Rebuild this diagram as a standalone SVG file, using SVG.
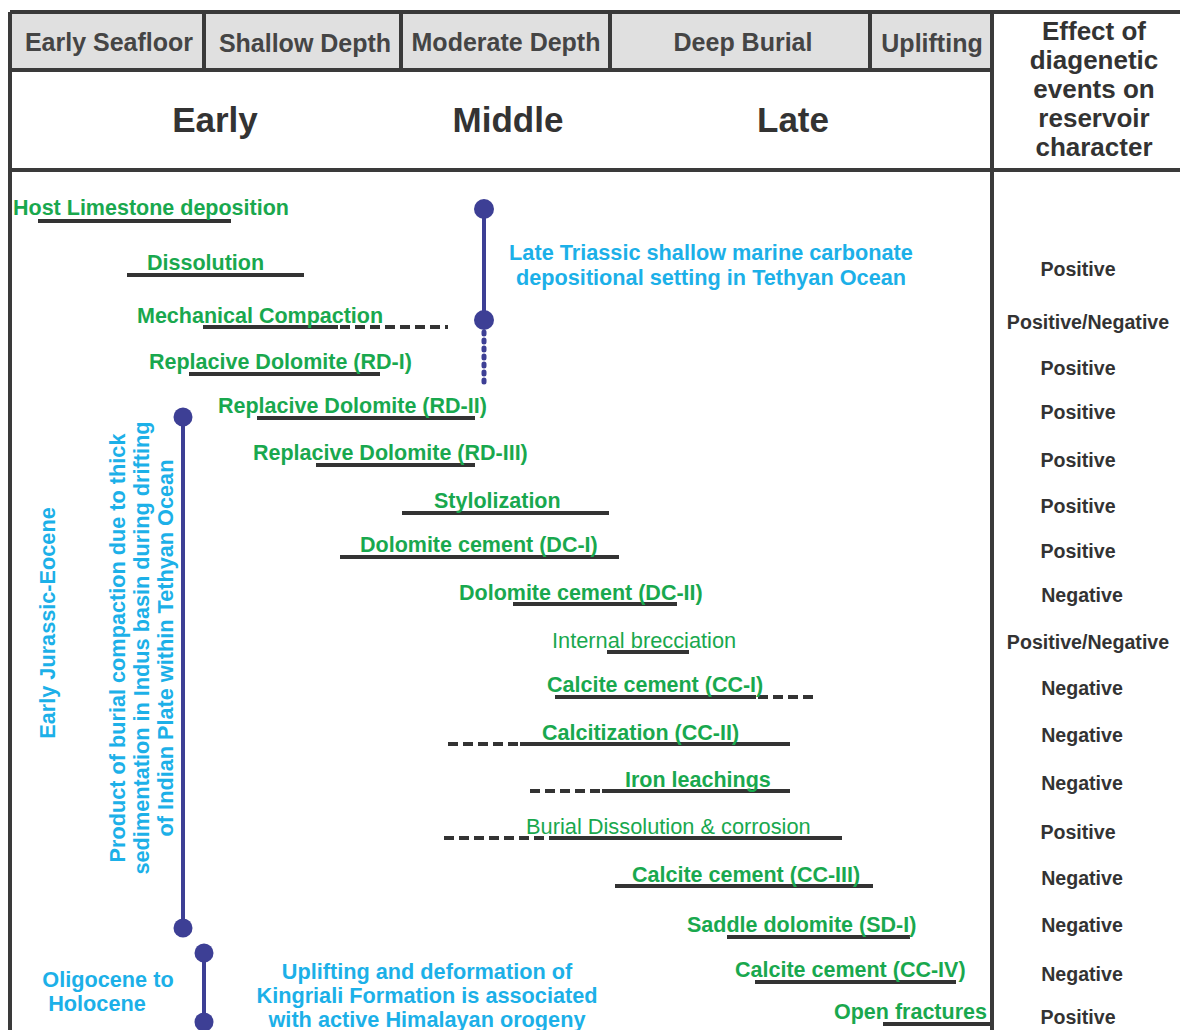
<svg xmlns="http://www.w3.org/2000/svg" width="1180" height="1030" viewBox="0 0 1180 1030">
<style>
.hdr{font-family:"Liberation Sans",Arial,sans-serif;font-weight:bold;font-size:25px;fill:#454545;text-anchor:middle}
.era{font-family:"Liberation Sans",Arial,sans-serif;font-weight:bold;font-size:35px;fill:#333;text-anchor:middle}
.eff{font-family:"Liberation Sans",Arial,sans-serif;font-weight:bold;font-size:26px;fill:#333;text-anchor:middle}
.lbl{font-family:"Liberation Sans",Arial,sans-serif;font-weight:bold;font-size:21.5px;fill:#19a84e}
.lblr{font-family:"Liberation Sans",Arial,sans-serif;font-size:21.8px;fill:#19a84e}
.blue{font-family:"Liberation Sans",Arial,sans-serif;font-weight:bold;font-size:21.7px;fill:#1cb0e8;text-anchor:middle}
.res{font-family:"Liberation Sans",Arial,sans-serif;font-weight:bold;font-size:19.6px;fill:#333;text-anchor:middle}
.frame{stroke:#3a3a3a;stroke-width:4;fill:none}
.bar{stroke:#333;stroke-width:4;fill:none}
.dash{stroke:#333;stroke-width:4;fill:none;stroke-dasharray:10 5}
.tl{stroke:#3d3f95;stroke-width:4;fill:none}
.tld{stroke:#3d3f95;stroke-width:5;fill:none;stroke-dasharray:2 6;stroke-linecap:round}
.dot{fill:#3d3f95}
</style>
<rect width="1180" height="1030" fill="#fff"/>
<g id="header">
<rect x="10" y="12" width="982" height="58" fill="#e0e0e0"/>
<path class="frame" d="M10 12 H1180 M10 70 H992 M10 170 H1180 M10 12 V1030 M992 12 V1030 M204 12 V70 M401 12 V70 M610 12 V70 M870 12 V70"/>
<text class="hdr" x="109" y="51">Early Seafloor</text>
<text class="hdr" x="305" y="52">Shallow Depth</text>
<text class="hdr" x="506" y="51">Moderate Depth</text>
<text class="hdr" x="743" y="51">Deep Burial</text>
<text class="hdr" x="932" y="52">Uplifting</text>
<text class="era" x="215" y="132">Early</text>
<text class="era" x="508" y="132">Middle</text>
<text class="era" x="793" y="132">Late</text>
<text class="eff" x="1094" y="40">Effect of</text>
<text class="eff" x="1094" y="69">diagenetic</text>
<text class="eff" x="1094" y="98">events on</text>
<text class="eff" x="1094" y="127">reservoir</text>
<text class="eff" x="1094" y="156">character</text>
</g>
<g id="connectors">
<path class="bar" d="M38 221 H231 M127 275 H304 M203 327 H338 M189 374 H380 M257 418 H475 M316 465 H475 M402 513 H609 M340 557 H619 M513 604 H677 M607 652 H689 M555 697 H756 M520 744 H790 M602 791 H790 M558 838 H842 M615 886 H873 M727 937 H910 M755 982 H956 M883 1024 H990"/>
<path class="dash" d="M340 327 H448 M758 697 H814 M448 744 H520 M530 791 H602 M444 838 H558"/>
<path class="tl" d="M484 209 V320 M183 417 V928 M204 953 V1022"/>
<path class="tld" d="M484 332 V382"/>
<circle class="dot" cx="484" cy="209" r="10"/>
<circle class="dot" cx="484" cy="320" r="10"/>
<circle class="dot" cx="183" cy="417" r="9.5"/>
<circle class="dot" cx="183" cy="928" r="9.5"/>
<circle class="dot" cx="204" cy="953" r="9.5"/>
<circle class="dot" cx="204" cy="1022" r="9.5"/>
</g>
<g id="events">
<text class="lbl" x="13" y="215">Host Limestone deposition</text>
<text class="lbl" x="147" y="270">Dissolution</text>
<text class="lbl" x="137" y="323">Mechanical Compaction</text>
<text class="lbl" x="149" y="369">Replacive Dolomite (RD-I)</text>
<text class="lbl" x="218" y="413">Replacive Dolomite (RD-II)</text>
<text class="lbl" x="253" y="460">Replacive Dolomite (RD-III)</text>
<text class="lbl" x="434" y="508">Stylolization</text>
<text class="lbl" x="360" y="552">Dolomite cement (DC-I)</text>
<text class="lbl" x="459" y="600">Dolomite cement (DC-II)</text>
<text class="lblr" x="552" y="648">Internal brecciation</text>
<text class="lbl" x="547" y="692">Calcite cement (CC-I)</text>
<text class="lbl" x="542" y="740">Calcitization (CC-II)</text>
<text class="lbl" x="625" y="787">Iron leachings</text>
<text class="lblr" x="526" y="834">Burial Dissolution &amp; corrosion</text>
<text class="lbl" x="632" y="882">Calcite cement (CC-III)</text>
<text class="lbl" x="687" y="932">Saddle dolomite (SD-I)</text>
<text class="lbl" x="735" y="977">Calcite cement (CC-IV)</text>
<text class="lbl" x="834" y="1019">Open fractures</text>
</g>
<g id="settings">
<text class="blue" x="711" y="260">Late Triassic shallow marine carbonate</text>
<text class="blue" x="711" y="285">depositional setting in Tethyan Ocean</text>
<text class="blue" transform="translate(55 623) rotate(-90)">Early Jurassic-Eocene</text>
<g transform="translate(141 648) rotate(-90)">
<text class="blue" x="0" y="-16">Product of burial compaction due to thick</text>
<text class="blue" x="0" y="8">sedimentation in Indus basin during drifting</text>
<text class="blue" x="0" y="32">of Indian Plate within Tethyan Ocean</text>
</g>
<text class="blue" x="108" y="987">Oligocene to</text>
<text class="blue" x="97" y="1011">Holocene</text>
<text class="blue" x="427" y="979">Uplifting and deformation of</text>
<text class="blue" x="427" y="1003">Kingriali Formation is associated</text>
<text class="blue" x="427" y="1027">with active Himalayan orogeny</text>
</g>
<g id="effects">
<text class="res" x="1078" y="276">Positive</text>
<text class="res" x="1088" y="329">Positive/Negative</text>
<text class="res" x="1078" y="375">Positive</text>
<text class="res" x="1078" y="419">Positive</text>
<text class="res" x="1078" y="467">Positive</text>
<text class="res" x="1078" y="513">Positive</text>
<text class="res" x="1078" y="558">Positive</text>
<text class="res" x="1082" y="602">Negative</text>
<text class="res" x="1088" y="649">Positive/Negative</text>
<text class="res" x="1082" y="695">Negative</text>
<text class="res" x="1082" y="742">Negative</text>
<text class="res" x="1082" y="790">Negative</text>
<text class="res" x="1078" y="839">Positive</text>
<text class="res" x="1082" y="885">Negative</text>
<text class="res" x="1082" y="932">Negative</text>
<text class="res" x="1082" y="981">Negative</text>
<text class="res" x="1078" y="1024">Positive</text>
</g>
</svg>
